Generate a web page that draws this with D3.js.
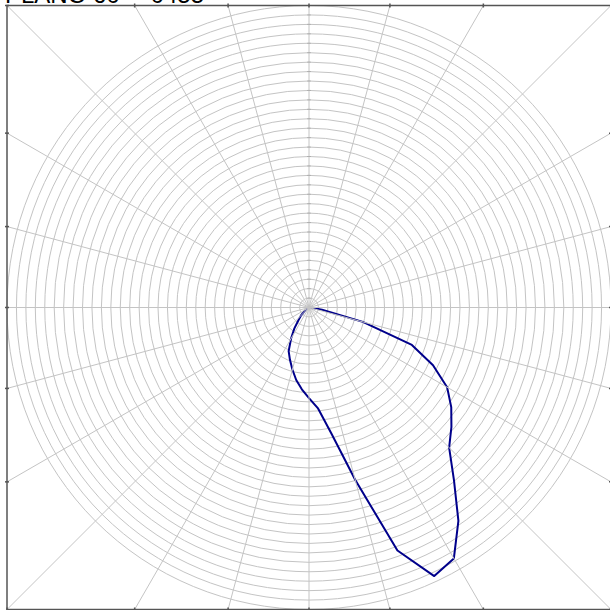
<!DOCTYPE html>
<html><head><meta charset="utf-8">
<script src="https://cdn.jsdelivr.net/npm/d3@7"></script>
<style>html,body{margin:0;padding:0;background:#fff;overflow:hidden}svg{display:block}</style>
</head><body>
<svg id="chart" width="610" height="610"></svg>
<script>
const title = "PLANO 60° - 0455";
const gammaAngles = [-90,-60,-50,-45,-40,-35,-30,-25,-20,-15,-10,-5,0,5,10,15,20,25,30,35,40,45,50,55,60,65,70,75,80,85,90];
const intensity   = [0,3,6,12,17,27,38,51,59,68,78,87,96,107,135,189,274,314,307,276,239,210,197,184,169,145,116,59,14,3,0];
const rMax = 320;
const ringStep = 10;
const spokeStep = 15;

const svg = d3.select("#chart");
const cx = 309, cy = 307.5, R = 302;
const r = d3.scaleLinear().domain([0, rMax]).range([0, R]);
const rings = d3.range(ringStep, rMax + 1, ringStep);
const spokes = d3.range(0, 360, spokeStep);

svg.append("defs").append("clipPath").attr("id","frameclip")
  .append("rect").attr("x", cx - R).attr("y", cy - R).attr("width", 2*R).attr("height", 2*R);

const g = svg.append("g").attr("transform", `translate(${cx},${cy})`);

// spokes (clipped to frame)
const sp = svg.append("g").attr("clip-path","url(#frameclip)")
  .append("g").attr("transform", `translate(${cx},${cy})`);
sp.selectAll("line").data(spokes).join("line")
  .attr("x1",0).attr("y1",0)
  .attr("x2", d => Math.cos(d*Math.PI/180)*R*1.6)
  .attr("y2", d => Math.sin(d*Math.PI/180)*R*1.6)
  .attr("stroke","#c4c4c4").attr("stroke-width",1);

g.selectAll("circle.ring").data(rings).join("circle")
  .attr("class","ring").attr("r", d => r(d))
  .attr("fill","none").attr("stroke","#c4c4c4").attr("stroke-width",1);

// small ticks along radial axis (upwards)
g.selectAll("line.rtick").data(rings).join("line")
  .attr("x1",-1.5).attr("x2",1.5)
  .attr("y1", d => -r(d)).attr("y2", d => -r(d))
  .attr("stroke","#999").attr("stroke-width",1);

// frame
svg.append("rect").attr("x", cx - R).attr("y", cy - R).attr("width", 2*R).attr("height", 2*R)
  .attr("fill","none").attr("stroke","#555").attr("stroke-width",1.5);

// frame tick marks where spokes meet frame
const ft = [];
spokes.forEach(a => {
  const rad = a*Math.PI/180, c = Math.cos(rad), s = Math.sin(rad);
  const t = R / Math.max(Math.abs(c), Math.abs(s));
  ft.push([cx + c*t, cy + s*t, Math.abs(c) >= Math.abs(s) ? "v" : "h"]);
});
svg.append("g").selectAll("line").data(ft).join("line")
  .attr("x1", d => d[2]==="v" ? d[0]-2 : d[0]).attr("x2", d => d[2]==="v" ? d[0]+2 : d[0])
  .attr("y1", d => d[2]==="h" ? d[1]-2 : d[1]).attr("y2", d => d[2]==="h" ? d[1]+2 : d[1])
  .attr("stroke","#555").attr("stroke-width",1.5);

// curve: gamma 0 points down; positive gamma to the right
const line = d3.lineRadial()
  .angle((d,i) => Math.PI - gammaAngles[i]*Math.PI/180)
  .radius(d => r(d));
g.append("path").datum(intensity)
  .attr("d", line)
  .attr("fill","none").attr("stroke","#00008b").attr("stroke-width",2).attr("stroke-linejoin","round");

svg.append("text").attr("x",5).attr("y",3)
  .attr("font-family","Liberation Sans, Arial, sans-serif").attr("font-size",24)
  .attr("fill","#000").text(title);
</script>
</body></html>
